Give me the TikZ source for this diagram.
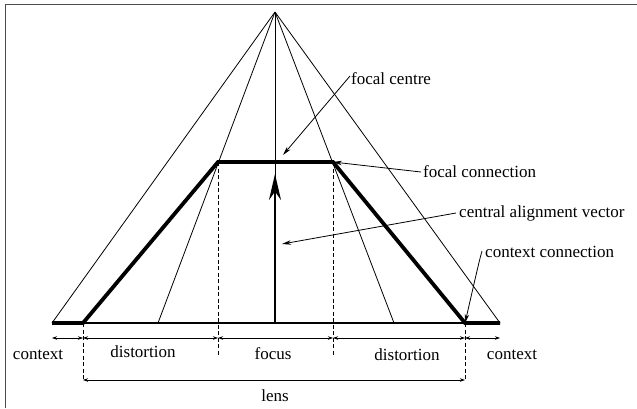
\documentclass[tikz,border=0pt]{standalone}
\usepackage{fontspec}
\setmainfont{Liberation Serif}
\usetikzlibrary{arrows.meta}
\begin{document}
\begin{tikzpicture}[x=1pt,y=-1pt,
  thinline/.style={line width=0.8pt},
  heavy/.style={line width=3.8pt, line join=miter},
  dimline/.style={line width=0.8pt, {Stealth[length=5pt,width=3.5pt]}-{Stealth[length=5pt,width=3.5pt]}},
  guide/.style={line width=0.8pt, dash pattern=on 4pt off 2.5pt},
  callout/.style={line width=0.8pt, -{Stealth[length=9pt,width=4.5pt]}},
  lbl/.style={font=\fontsize{17}{19}\selectfont, inner sep=0pt},
]
\useasboundingbox (0,0) rectangle (637,408);
% frame
\draw[line width=1pt, black!70] (5,408) -- (5,4) -- (637,4);

% points
\coordinate (A) at (275,12);
\coordinate (L0) at (52,323);
\coordinate (L1) at (83,323);
\coordinate (Lin) at (158,323);
\coordinate (C) at (275,323);
\coordinate (Rin) at (394,323);
\coordinate (R1) at (465,323);
\coordinate (R0) at (500,323);
\coordinate (TL) at (218,162);
\coordinate (TR) at (333,162);
\coordinate (Ctip) at (275,174);

% rays from apex
\draw[thinline] (A) -- (L0);
\draw[thinline] (A) -- (Lin);
\draw[thinline] (A) -- (C);
\draw[thinline] (A) -- (Rin);
\draw[thinline] (A) -- (R0);

% baseline
\draw[line width=1.6pt] (L1) -- (R1);

% thick lens profile
\draw[heavy] (L0) -- (L1) -- (TL) -- (TR) -- (R1) -- (R0);

% central alignment vector
\draw[line width=2.2pt, -{Stealth[length=26pt,width=12pt]}] (C) -- (Ctip);

% dashed guides
\coordinate (TLd) at (218,355);
\coordinate (TRd) at (333,355);
\coordinate (L1d) at (83,380);
\coordinate (R1d) at (465,380);
\draw[guide] (TL) -- (TLd);
\draw[guide] (TR) -- (TRd);
\draw[guide] (L1) -- (L1d);
\draw[guide] (R1) -- (R1d);

% dimension row
\coordinate (d0) at (52,338);
\coordinate (d1) at (83,338);
\coordinate (d2) at (218,338);
\coordinate (d3) at (333,338);
\coordinate (d4) at (465,338);
\coordinate (d5) at (500,338);
\draw[dimline] (d0) -- (d1);
\draw[dimline] (d1) -- (d2);
\draw[dimline] (d2) -- (d3);
\draw[dimline] (d3) -- (d4);
\draw[dimline] (d4) -- (d5);
\draw[dimline] (L1d) -- (R1d);

% bottom labels
\node[lbl] (ctxl) at (38,355) {context};
\node[lbl] (distl) at (143,352) {distortion};
\node[lbl] (foc) at (273,354) {focus};
\node[lbl] (distr) at (407,355) {distortion};
\node[lbl] (ctxr) at (512,355) {context};
\node[lbl] (lens) at (275,396) {lens};

% callouts
\node[lbl, anchor=west] (fc) at (351,79) {focal centre};
\node[lbl, anchor=west] (fcon) at (423,172) {focal connection};
\node[lbl, anchor=west] (cav) at (459,213) {central alignment vector};
\node[lbl, anchor=west] (ccon) at (485,252) {context connection};

\coordinate (fcE) at (283,155);
\coordinate (cavE) at (282,244);
\draw[callout] ([xshift=-1pt,yshift=3pt]fc.west) -- (fcE);
\draw[callout] ([xshift=-2pt]fcon.west) -- (TR);
\draw[callout] ([xshift=-3pt]cav.west) -- (cavE);
\draw[callout] ([xshift=-3pt,yshift=1pt]ccon.west) .. controls (479,262) .. (R1);
\end{tikzpicture}
\end{document}
